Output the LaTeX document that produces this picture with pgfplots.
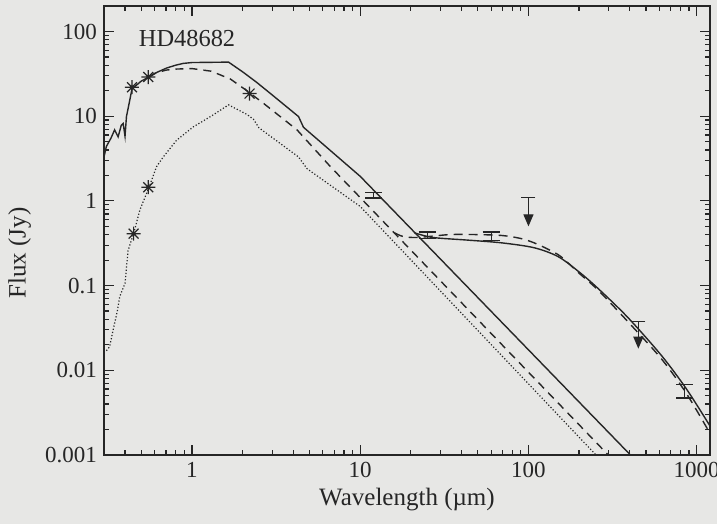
\documentclass[border=0pt]{standalone}
\usepackage{fontspec}
\setmainfont{Liberation Serif}
\usepackage{pgfplots}
\pgfplotsset{compat=1.18}
\usetikzlibrary{arrows.meta}
\definecolor{bg}{RGB}{231,231,229}
\definecolor{ink}{RGB}{38,38,38}

\pgfdeclareplotmark{ast8}{%
 \pgfpathmoveto{\pgfqpoint{-\pgfplotmarksize}{0pt}}\pgfpathlineto{\pgfqpoint{\pgfplotmarksize}{0pt}}%
 \pgfpathmoveto{\pgfqpoint{0pt}{-\pgfplotmarksize}}\pgfpathlineto{\pgfqpoint{0pt}{\pgfplotmarksize}}%
 \pgfpathmoveto{\pgfqpoint{-0.7071\pgfplotmarksize}{-0.7071\pgfplotmarksize}}\pgfpathlineto{\pgfqpoint{0.7071\pgfplotmarksize}{0.7071\pgfplotmarksize}}%
 \pgfpathmoveto{\pgfqpoint{-0.7071\pgfplotmarksize}{0.7071\pgfplotmarksize}}\pgfpathlineto{\pgfqpoint{0.7071\pgfplotmarksize}{-0.7071\pgfplotmarksize}}%
 \pgfusepathqstroke}
\pgfdeclareplotmark{blank}{}

\begin{document}
\begin{tikzpicture}
\useasboundingbox (-52pt,-34.5pt) rectangle (306.5pt,227.5pt);
\fill[bg] (-52pt,-34.5pt) rectangle (306.5pt,227.5pt);
\begin{axis}[
  scale only axis, width=303pt, height=224.5pt,
  xmode=log, ymode=log,
  xmin=0.3, xmax=1200, ymin=0.001, ymax=200,
  axis line style={ink, line width=0.7pt},
  tick style={ink, line width=0.6pt},
  major tick length=5pt, minor tick length=2.5pt,
  tick align=inside,
  xtick={1,10,100,1000}, xticklabels={1,10,100,1000},
  ytick={0.001,0.01,0.1,1,10,100}, yticklabels={0.001,0.01,0.1,1,10,100},
  minor xtick={0.4,0.5,0.6,0.7,0.8,0.9,2,3,4,5,6,7,8,9,20,30,40,50,60,70,80,90,200,300,400,500,600,700,800,900},
  minor ytick={0.002,0.003,0.004,0.005,0.006,0.007,0.008,0.009,0.02,0.03,0.04,0.05,0.06,0.07,0.08,0.09,0.2,0.3,0.4,0.5,0.6,0.7,0.8,0.9,2,3,4,5,6,7,8,9,20,30,40,50,60,70,80,90},
  ticklabel style={font=\fontsize{11.5}{13}\selectfont, text=ink},
  xlabel={Wavelength (µm)}, ylabel={Flux (Jy)},
  label style={font=\fontsize{12.5}{14}\selectfont, text=ink},
  xlabel style={at={(axis description cs:0.5,-0.1)}, anchor=center},
  ylabel style={at={(axis description cs:-0.139,0.45)}, anchor=center},
  clip=true,
]
% solid photosphere
\addplot[ink, line width=0.7pt] coordinates {
(0.30,3.3) (0.31,4.4) (0.33,5.5) (0.347,6.9) (0.364,5.7) (0.38,7.8) (0.39,8.2) (0.40,5.8)
(0.408,9.9) (0.427,15.5) (0.44,21) (0.50,26) (0.556,29) (0.62,33) (0.706,37) (0.80,40)
(0.887,42) (1.0,43) (1.65,43.5) (2.0,33.4) (2.43,25) (3.0,17.8) (4.3,9.9) (4.6,7.4)
(10,1.95) (404,0.001) (800,0.00025)
};
% dashed photosphere
\addplot[ink, line width=0.7pt, dash pattern=on 4pt off 3pt] coordinates {
(0.556,29) (0.6,32) (0.7,35) (0.8,36) (1.0,36.5) (1.3,34) (1.69,27.5) (2.12,20)
(2.66,14.2) (4.21,6.9) (6.65,2.54) (298,0.001) (800,0.00013)
};
% dotted photosphere
\addplot[ink, line width=0.6pt, dash pattern=on 0.6pt off 1pt] coordinates {
(0.31,0.017) (0.324,0.019) (0.34,0.030) (0.36,0.05) (0.372,0.074) (0.40,0.106) (0.417,0.26)
(0.45,0.41) (0.49,0.78) (0.556,1.45) (0.616,2.54) (0.675,3.3) (0.81,5.2) (1.02,7.5)
(1.3,10) (1.65,13.6) (2.12,10.5) (2.32,9.2) (2.5,7.3) (4.3,3.3) (4.83,2.4) (10,0.86)
(252,0.001) (600,0.00016)
};
% solid disk model
\addplot[ink, line width=0.7pt, smooth] coordinates {
(21,0.42) (27,0.37) (43,0.345) (69,0.32) (108,0.28) (150,0.22) (200,0.145) (260,0.092)
(390,0.042) (620,0.0148) (870,0.006) (1200,0.0022)
};
% dashed disk model
\addplot[ink, line width=0.7pt, dash pattern=on 4.5pt off 3pt, smooth] coordinates {
(16,0.42) (18,0.38) (22,0.37) (34,0.40) (50,0.40) (70,0.39) (90,0.36) (108,0.32)
(130,0.27) (156,0.22) (200,0.14) (260,0.088) (390,0.0375) (620,0.0135) (870,0.0053) (1200,0.0018)
};
% asterisk photometry
\addplot[ink, only marks, mark=ast8, mark size=3.5pt, mark options={line width=0.6pt}] coordinates {
(0.44,22) (0.55,29) (2.2,18.5) (0.45,0.41) (0.55,1.45)
};
% detections with error bars
\addplot[ink, only marks, mark=blank, error bars/.cd, y dir=both, y explicit,
  error bar style={ink, line width=0.6pt},
  error mark options={rotate=90, mark size=4.25pt, ink, line width=0.6pt}]
  table[x=x, y=y, y error plus=ep, y error minus=em] {
x y ep em
12 1.17 0.09 0.09
25 0.395 0.035 0.035
60 0.385 0.045 0.045
850 0.0057 0.0011 0.001
};
% upper limits
\addplot[ink, only marks, mark=-, mark size=3.5pt, mark options={line width=0.6pt},
  error bars/.cd, y dir=minus, y explicit, error mark=none,
  error bar style={ink, line width=0.6pt, -{Triangle[width=5pt,length=6pt]}}]
  table[x=x, y=y, y error minus=em] {
x y em
100 1.1 0.6
450 0.038 0.020
};
\node[anchor=west, font=\fontsize{12.2}{14}\selectfont, text=ink] at (axis description cs:0.046,0.9265) {HD48682};
\end{axis}
\end{tikzpicture}
\end{document}
